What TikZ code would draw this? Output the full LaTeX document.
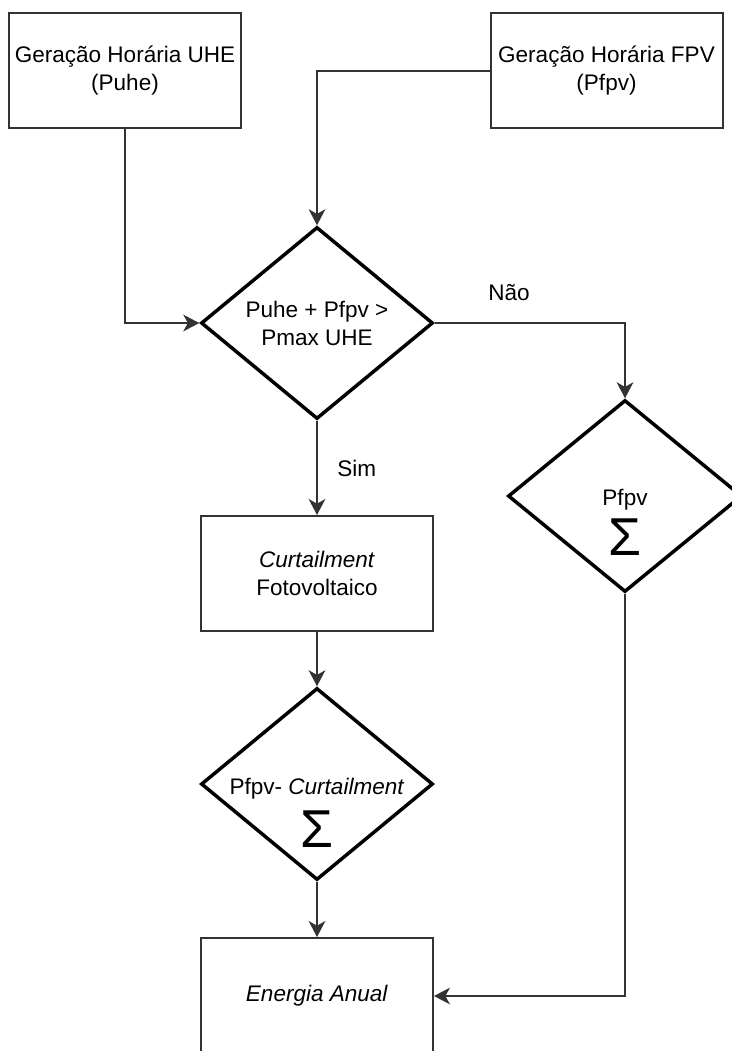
\documentclass[tikz,border=0pt]{standalone}
\usepackage{fontspec}
\setmainfont{Liberation Sans}
\usetikzlibrary{shapes.geometric,arrows.meta}
\begin{document}
\begin{tikzpicture}[x=0.75pt,y=-0.75pt,
  font=\fontsize{16.9}{21}\selectfont,
  box/.style={draw=black!80, line width=1.5pt, minimum width=174pt, minimum height=86.25pt, inner sep=0pt, align=center},
  dia/.style={draw=black, line width=2.6pt, diamond, minimum width=174pt, minimum height=144pt, inner sep=0pt},
  conn/.style={draw=black!80, line width=1.5pt, -{Stealth[length=12pt,width=12.5pt,inset=3.5pt]}},
  lbl/.style={anchor=base, inner sep=0pt},
  sig/.style={font=\fontsize{40}{40}\selectfont, anchor=base, inner sep=0pt}]
\useasboundingbox (0,0) rectangle (732,1051);
% boxes
\node[box] (uhe) at (125,70.5) {Geração Horária UHE\\(Puhe)};
\node[box] (fpv) at (606.5,70.5) {Geração Horária FPV\\(Pfpv)};
\node[box] (curt) at (317,573.5) {\textit{Curtailment}\\Fotovoltaico};
\node[box, minimum height=87pt] (en) at (317,996) {\textit{Energia Anual}};
% diamonds
\node[dia] (d1) at (317,323) {};
\node[align=center, inner sep=0pt] (t1) at (317,323) {Puhe + Pfpv >\\Pmax UHE};
\node[dia, minimum width=175.5pt] (d2) at (625,496) {};
\node[lbl] (t2) at (625,505) {Pfpv};
\node[sig] (s2) at (625,555) {Σ};
\node[dia] (d3) at (317,784) {};
\node[lbl] (t3) at (317,794) {Pfpv- \textit{Curtailment}};
\node[sig] (s3) at (317,847) {Σ};
% connectors
\draw[conn] (uhe.south) |- (d1.west);
\draw[conn] (fpv.west) -| (d1.north);
\draw[conn] (d1.east) -| (d2.north);
\draw[conn] (d1.south) -- (curt.north);
\draw[conn] (curt.south) -- (d3.north);
\draw[conn] (d3.south) -- (en.north);
\draw[conn] (d2.south) |- (en.east);
% labels
\node[lbl] (nao) at (509,300) {Não};
\node[lbl, anchor=base west] (sim) at (337,476) {Sim};
\end{tikzpicture}
\end{document}
